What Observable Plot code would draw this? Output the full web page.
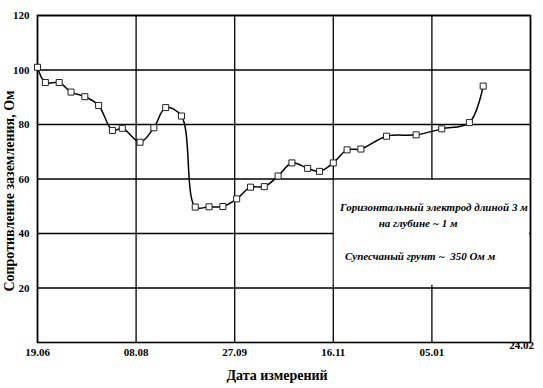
<!DOCTYPE html>
<html><head><meta charset="utf-8">
<script src="https://cdn.jsdelivr.net/npm/d3@7"></script>
<script src="https://cdn.jsdelivr.net/npm/@observablehq/plot@0.6"></script>
<style>body{margin:0;background:#fff}</style>
</head><body><div id="chart"></div>
<script>
// Measurement dates and grounding resistance (Ohm)
const measureDates = ["2009-06-19","2009-06-23","2009-06-30","2009-07-06","2009-07-13","2009-07-20","2009-07-27","2009-08-01","2009-08-10","2009-08-17","2009-08-23","2009-08-31","2009-09-07","2009-09-14","2009-09-21","2009-09-28","2009-10-05","2009-10-12","2009-10-19","2009-10-26","2009-11-03","2009-11-09","2009-11-16","2009-11-23","2009-11-30","2009-12-13","2009-12-28","2010-01-10","2010-01-24","2010-01-31"];
const resistance = [101, 95.4, 95.4, 91.9, 90.2, 87, 77.8, 78.6, 73.5, 78.8, 86.2, 83.1, 49.7, 49.8, 49.9, 52.7, 57, 57.2, 61.1, 65.9, 63.9, 62.8, 65.9, 70.7, 71, 75.7, 76.2, 78.4, 80.7, 94.1];
const xTickDates = ["2009-06-19","2009-08-08","2009-09-27","2009-11-16","2010-01-05","2010-02-24"];
const yTicks = [20, 40, 60, 80, 100, 120];
const yDomain = [0, 120];
const noteLines = ["Горизонтальный электрод длиной 3 м", "на глубине ~ 1 м", "Супесчаный грунт ~  350 Ом м"];
const noteX = ["2010-01-06", "2009-12-29", "2009-12-30"];
const noteY = [49.7, 43.8, 31.7];
const noteBox = {x1: "2009-11-16", x2: "2010-02-24", y1: 21, y2: 59.5};
const yLabel = "Сопротивление заземления, Ом";
const xLabel = "Дата измерений";

const parse = d3.utcParse("%Y-%m-%d");
const fmt = d3.utcFormat("%d.%m");
const data = measureDates.map((d, i) => ({date: parse(d), value: resistance[i]}));
const xTicks = xTickDates.map(parse);
const notes = noteLines.map((t, i) => ({text: t, x: parse(noteX[i]), y: noteY[i]}));
const box = {x1: parse(noteBox.x1), x2: parse(noteBox.x2), y1: noteBox.y1, y2: noteBox.y2};

const chart = Plot.plot({
  width: 543, height: 388,
  marginLeft: 37, marginRight: 13, marginTop: 15, marginBottom: 46,
  style: {fontFamily: "'Liberation Serif', serif", fontSize: "11px", color: "black", background: "white"},
  x: {type: "utc", domain: [xTicks[0], xTicks[xTicks.length - 1]]},
  y: {domain: yDomain},
  marks: [
    Plot.gridY(yTicks, {stroke: "black", strokeOpacity: 1, strokeWidth: 1.3}),
    Plot.gridX(xTicks, {stroke: "black", strokeOpacity: 1, strokeWidth: 1.3}),
    Plot.rect([box], {x1: "x1", x2: "x2", y1: "y1", y2: "y2", fill: "white", insetLeft: 1, insetRight: 1}),
    Plot.frame({stroke: "black", strokeWidth: 1.6}),
    Plot.axisY(yTicks, {tickSize: 0, tickPadding: 8, label: null, fontWeight: "bold", fontSize: 11}),
    Plot.axisX(xTicks.slice(0, 5), {tickSize: 0, tickPadding: 6, tickFormat: fmt, label: null, fontWeight: "bold", fontSize: 11}),
    Plot.text(xTicks.slice(5), {x: d => d, frameAnchor: "bottom", lineAnchor: "middle", textAnchor: "middle", dy: 3, dx: -9, text: fmt, fontWeight: "bold", fontSize: 11}),
    Plot.line(data, {x: "date", y: "value", curve: "catmull-rom", stroke: "black", strokeWidth: 1.5}),
    Plot.dot(data, {x: "date", y: "value", symbol: "square", r: 3.4, stroke: "#222", strokeWidth: 1, fill: "white"}),
    Plot.text(notes, {x: "x", y: "y", text: "text", fontStyle: "italic", fontWeight: "bold", fontSize: 11}),
    Plot.text([yLabel], {frameAnchor: "left", textAnchor: "middle", lineAnchor: "middle", rotate: -90, dx: -28, dy: 12, fontWeight: "bold", fontSize: 14}),
    Plot.text([xLabel], {frameAnchor: "bottom", textAnchor: "middle", lineAnchor: "middle", dx: -7, dy: 33, fontWeight: "bold", fontSize: 14})
  ]
});
document.getElementById("chart").appendChild(chart);
</script>
</body></html>
